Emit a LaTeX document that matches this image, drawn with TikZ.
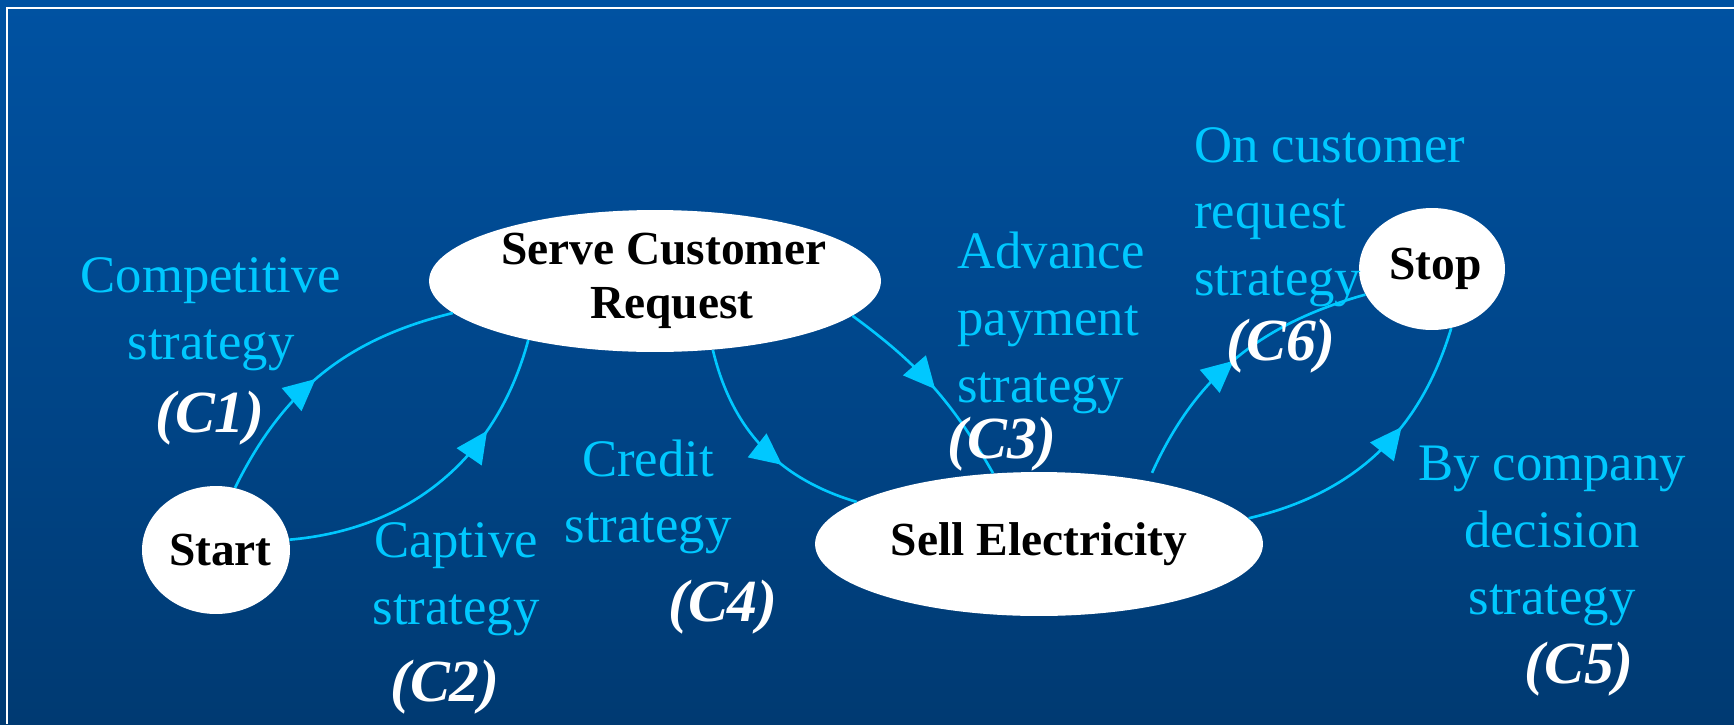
\documentclass[tikz,border=0pt]{standalone}
\usepackage{fontspec}
\setmainfont{Liberation Serif}
\usetikzlibrary{arrows.meta}
\usetikzlibrary{shapes.geometric}
\usetikzlibrary{decorations.markings}
\definecolor{skyline}{RGB}{0,200,255}
\definecolor{slidetop}{RGB}{0,82,162}
\definecolor{slidebot}{RGB}{0,58,114}

\begin{document}
\begin{tikzpicture}[x=0.02cm, y=0.02cm,
  state/.style={ellipse, fill=white, inner sep=0, align=center, font=\fontsize{27}{31}\selectfont\bfseries},
  lbl/.style={skyline, inner sep=0, font=\fontsize{30}{38}\selectfont},
  tag/.style={white, inner sep=0, font=\fontsize{34}{38}\selectfont\bfseries\itshape},
  flow/.style={skyline, line width=1.5pt, postaction={decorate},
    decoration={markings, mark=at position #1 with {\arrow{Triangle[length=18pt,width=17pt]}}}}]
\useasboundingbox (0,0) rectangle (1734,-724);
\shade[top color=slidetop, bottom color=slidebot] (0,0) rectangle (1734,-724);
\draw[white, line width=1.2pt] (7,-724) -- (7,-8) -- (1734,-8);
% states
\node[state, inner xsep=-6pt, minimum width=2.96cm, minimum height=2.56cm] (start) at (216,-550) {\hspace*{5pt}Start};
\node[state, inner xsep=-9pt, minimum width=9.04cm, minimum height=2.84cm] (serve) at (655,-281)
  {\hspace*{10pt}Serve Customer\\\hspace*{19pt}Request};
\node[state, minimum width=8.96cm, minimum height=2.88cm] (sell) at (1039,-544) {Sell Electricity};
\node[state, inner xsep=-4pt, minimum width=2.92cm, minimum height=2.44cm] (stop) at (1432,-269) {\hspace*{4pt}Stop};
% transitions
\draw[flow=0.47] (start.73) to[bend left=25] (serve.189);
\draw[flow=0.7] (start.8) to[bend right=35] (serve.205);
\draw[flow=0.62] (serve.310) to[bend right=30] (sell.167);
\draw[flow=0.52] (serve.350) to[bend left=12] (sell.123);
\draw[flow=0.5, shorten <=5pt] (sell.30) to[bend left=25] (stop.201);
\draw[flow=0.62] (sell.7) to[bend right=30] (stop.288);
% strategy labels
\node[lbl, align=center] (comp) at (211,-314) {Competitive\\strategy};
\node[lbl, align=center] (capt) at (456,-579) {Captive\\strategy};
\node[lbl, align=center] (cred) at (648,-497) {Credit\\strategy};
\node[lbl, align=left, anchor=west] (adv) at (957,-323) {Advance\\payment\\strategy};
\node[lbl, align=left, anchor=west] (oncust) at (1194,-217) {On customer\\request\\strategy};
\node[lbl, align=center] (bycomp) at (1552,-536) {By company\\decision\\strategy};
\node[tag] (c1) at (210,-418) {(C1)};
\node[tag] (c2) at (445,-687) {(C2)};
\node[tag] (c3) at (1002,-444) {(C3)};
\node[tag] (c4) at (723,-607) {(C4)};
\node[tag] (c5) at (1579,-669) {(C5)};
\node[tag] (c6) at (1281,-346) {(C6)};
\end{tikzpicture}
\end{document}
